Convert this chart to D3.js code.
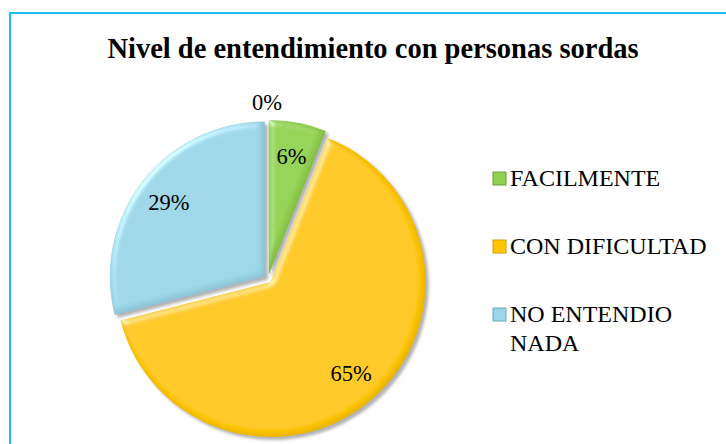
<!DOCTYPE html>
<html>
<head>
<meta charset="utf-8">
<script src="https://cdn.jsdelivr.net/npm/d3@7/dist/d3.min.js"></script>
<style>
  html, body { margin: 0; padding: 0; background: #fff; }
  svg { display: block; }
</style>
</head>
<body>
<div id="chart"></div>
<script>
const title = "Nivel de entendimiento con personas sordas";
const categories = ["FACILMENTE", "CON DIFICULTAD", "NO ENTENDIO NADA", ""];
const values = [6, 65, 29, 0];
const labels = ["6%", "65%", "29%", "0%"];
const colors = ["#92d050", "#ffc600", "#9bd5e7", "#cccccc"];
const legendMarkColors = ["#6f9e3c", "#d49c00", "#6aa9bb"];
const FONT = '"Liberation Serif"';

const W = 726, H = 444;
const svg = d3.select("#chart").append("svg").attr("width", W).attr("height", H);

svg.append("path")
  .attr("d", `M10,${H} L10,13 L${W},13`)
  .attr("fill", "none").attr("stroke", "#1cbff0").attr("stroke-width", 2);

const defs = svg.append("defs");
const f = defs.append("filter").attr("id", "bevel")
  .attr("x", "-10%").attr("y", "-10%").attr("width", "125%").attr("height", "125%");
f.append("feGaussianBlur").attr("in", "SourceAlpha").attr("stdDeviation", 3).attr("result", "blur");
const sl = f.append("feSpecularLighting").attr("in", "blur").attr("surfaceScale", 3)
  .attr("specularConstant", 0.35).attr("specularExponent", 22)
  .attr("lighting-color", "#ffffff").attr("result", "spec");
sl.append("feDistantLight").attr("azimuth", 225).attr("elevation", 35);
f.append("feComposite").attr("in", "spec").attr("in2", "SourceAlpha").attr("operator", "in").attr("result", "specOut");
f.append("feComposite").attr("in", "SourceGraphic").attr("in2", "specOut").attr("operator", "arithmetic")
  .attr("k1", 0).attr("k2", 1).attr("k3", 1).attr("k4", 0).attr("result", "lit");
f.append("feOffset").attr("in", "blur").attr("dx", -2).attr("dy", -2).attr("result", "off");
f.append("feComposite").attr("in", "SourceAlpha").attr("in2", "off").attr("operator", "out").attr("result", "edge");
f.append("feColorMatrix").attr("in", "edge").attr("type", "matrix")
  .attr("values", "0 0 0 0 0  0 0 0 0 0  0 0 0 0 0  0 0 0 0.25 0").attr("result", "edgeDark");
f.append("feComposite").attr("in", "edgeDark").attr("in2", "SourceAlpha").attr("operator", "in").attr("result", "edgeIn");
f.append("feMerge").call(m => {
  m.append("feMergeNode").attr("in", "lit");
  m.append("feMergeNode").attr("in", "edgeIn");
});

const shadow = defs.append("filter").attr("id", "shadow")
  .attr("x", "-10%").attr("y", "-10%").attr("width", "125%").attr("height", "125%");
shadow.append("feGaussianBlur").attr("in", "SourceAlpha").attr("stdDeviation", 1.5).attr("result", "b");
shadow.append("feOffset").attr("in", "b").attr("dx", 2.5).attr("dy", 2.5).attr("result", "o");
shadow.append("feColorMatrix").attr("in", "o").attr("type", "matrix")
  .attr("values", "0 0 0 0 0  0 0 0 0 0  0 0 0 0 0  0 0 0 0.3 0");

svg.append("text")
  .attr("x", 373).attr("y", 58)
  .attr("text-anchor", "middle")
  .style("font-family", FONT)
  .attr("font-weight", "bold").attr("font-size", 28.5)
  .attr("fill", "#000").text(title);

const cx = 268, cy = 279, r = 155, explode = 4;
const pie = d3.pie().sort(null).value(d => d.v).startAngle(0).endAngle(2 * Math.PI);
const data = values.map((v, i) => ({ v, i }));
const arcs = pie(data);
const arc = d3.arc().innerRadius(0).outerRadius(r);

const g = svg.append("g").attr("transform", `translate(${cx},${cy})`);

function offset(d, e) {
  const a = (d.startAngle + d.endAngle) / 2;
  return [Math.sin(a) * e, -Math.cos(a) * e];
}

const drawn = arcs.filter(d => d.data.v > 0);
g.selectAll("path.sh").data(drawn).join("path").attr("class", "sh")
  .attr("transform", d => `translate(${offset(d, explode)})`)
  .attr("d", arc).attr("fill", "#000").attr("filter", "url(#shadow)");
g.selectAll("path.sl").data(drawn).join("path").attr("class", "sl")
  .attr("transform", d => `translate(${offset(d, explode)})`)
  .attr("d", arc).attr("fill", d => colors[d.data.i]).attr("filter", "url(#bevel)");

g.selectAll("text.lab").data(arcs).join("text").attr("class", "lab")
  .attr("transform", d => {
    if (d.data.v === 0) {
      const a = d.startAngle;
      const rr = r + 22;
      return `translate(${Math.sin(a) * rr - 1},${-Math.cos(a) * rr})`;
    }
    const a = (d.startAngle + d.endAngle) / 2;
    const rr = r * 0.81;
    return `translate(${Math.sin(a) * rr},${-Math.cos(a) * rr})`;
  })
  .attr("text-anchor", "middle").attr("dy", "0.35em")
  .style("font-family", FONT)
  .attr("font-size", 22.5).attr("fill", "#000")
  .text(d => labels[d.data.i]);

const legend = svg.append("g");
const legendItems = categories.filter(c => c !== "");
const lx = 510, ly0 = 186, lstep = 68, lineH = 28.5, maxW = 212;
legendItems.forEach((name, i) => {
  const y = ly0 + i * lstep;
  legend.append("rect").attr("x", lx - 17).attr("y", y - 14).attr("width", 13).attr("height", 13)
    .attr("fill", colors[i]).attr("stroke", legendMarkColors[i]).attr("stroke-width", 1);
  const t = legend.append("text").attr("x", lx).attr("y", y)
    .style("font-family", FONT)
    .attr("font-size", 24).attr("fill", "#000");
  const words = name.split(" ");
  let line = [], tspan = t.append("tspan").attr("x", lx).attr("y", y), ln = 0;
  words.forEach(w => {
    line.push(w);
    tspan.text(line.join(" "));
    if (tspan.node().getComputedTextLength() > maxW && line.length > 1) {
      line.pop();
      tspan.text(line.join(" "));
      line = [w];
      ln++;
      tspan = t.append("tspan").attr("x", lx).attr("y", y + ln * lineH).text(w);
    }
  });
});
</script>
</body>
</html>
